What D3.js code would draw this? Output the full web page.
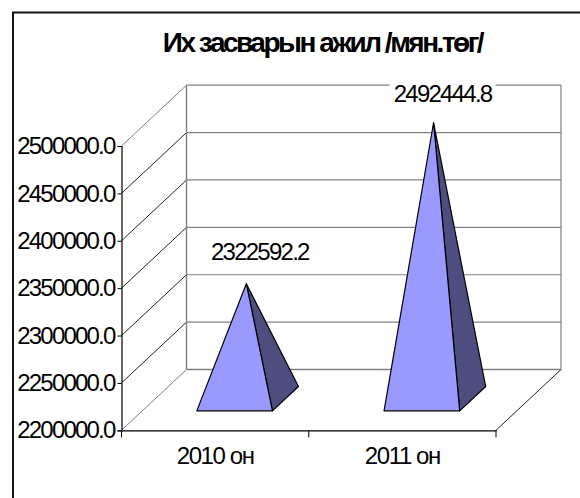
<!DOCTYPE html>
<html>
<head>
<meta charset="utf-8">
<script src="https://cdn.jsdelivr.net/npm/d3@7"></script>
<style>
  html, body { margin: 0; padding: 0; background: #fff; }
  svg { display: block; }
  text { font-family: "Liberation Sans", Arial, sans-serif; fill: #000; }
</style>
</head>
<body>
<svg id="chart"></svg>
<script>
const titleText = 'Их засварын ажил /мян.төг/';
const categories = ['2010 он', '2011 он'];
const values = [2322592.2, 2492444.8];
const valueTicks = [2200000, 2250000, 2300000, 2350000, 2400000, 2450000, 2500000];

const svgWidth = 580;
const svgHeight = 498;
const margin = { top: 146, right: 84, bottom: 67.7, left: 121.5 };

// depth offset of the back wall
const depthX = 65;
const depthY = 60.8;

const svg = d3.select('#chart')
  .attr('width', svgWidth)
  .attr('height', svgHeight);

const xScale = d3.scaleBand()
  .domain(categories)
  .range([margin.left, margin.left + 374.5]);

const yScale = d3.scaleLinear()
  .domain([2200000, 2500000])
  .range([svgHeight - margin.bottom, margin.top]);

const xRight = xScale.range()[1];
const project = (x, y, depth) => [x + depth * depthX, y - depth * depthY];

// outer frame, runs off the right and bottom of the picture
svg.append('path')
  .attr('d', `M13,${svgHeight + 2} V12.5 H${svgWidth + 2}`)
  .attr('fill', 'none')
  .attr('stroke', '#111')
  .attr('stroke-width', 2);

const grid = svg.append('g');

// back wall lines and the slanted side wall lines
valueTicks.forEach(t => {
  const edge = t === 2200000 || t === 2500000;
  const back = project(margin.left, yScale(t), 1);
  const backRight = project(xRight, yScale(t), 1);
  grid.append('line')
    .attr('x1', back[0]).attr('y1', back[1])
    .attr('x2', backRight[0]).attr('y2', backRight[1])
    .attr('stroke', '#808080')
    .attr('stroke-width', t === 2200000 ? 1.6 : 1.2);
  grid.append('line')
    .attr('x1', margin.left).attr('y1', yScale(t))
    .attr('x2', back[0]).attr('y2', back[1])
    .attr('stroke', edge ? '#808080' : '#222')
    .attr('stroke-width', 1);
});

const wallTop = project(margin.left, yScale(2500000), 1);
const wallBottom = project(margin.left, yScale(2200000), 1);
grid.append('line')
  .attr('x1', wallTop[0]).attr('y1', wallTop[1])
  .attr('x2', wallBottom[0]).attr('y2', wallBottom[1])
  .attr('stroke', '#808080')
  .attr('stroke-width', 1.4);

const rightTop = project(xRight, yScale(2500000), 1);
const rightBottom = project(xRight, yScale(2200000), 1);
grid.append('line')
  .attr('x1', rightTop[0]).attr('y1', rightTop[1])
  .attr('x2', rightBottom[0]).attr('y2', rightBottom[1])
  .attr('stroke', '#808080')
  .attr('stroke-width', 1.2);
grid.append('line')
  .attr('x1', xRight).attr('y1', yScale(2200000))
  .attr('x2', rightBottom[0]).attr('y2', rightBottom[1])
  .attr('stroke', '#222')
  .attr('stroke-width', 1);

// axes
const yAxis = d3.axisLeft(yScale)
  .tickValues(valueTicks)
  .tickFormat(d3.format('.1f'))
  .tickSize(4)
  .tickPadding(3);

const yAxisG = svg.append('g')
  .attr('transform', `translate(${margin.left}, 0)`)
  .call(yAxis);

const xAxis = d3.axisBottom(xScale)
  .tickSize(0)
  .tickPadding(17);

const xAxisG = svg.append('g')
  .attr('transform', `translate(0, ${yScale(2200000)})`)
  .call(xAxis);

[margin.left, ...categories.map(c => xScale(c) + xScale.bandwidth())].forEach(x => {
  xAxisG.append('line')
    .attr('x1', x).attr('x2', x)
    .attr('y1', 0).attr('y2', 7)
    .attr('stroke', '#000');
});

svg.selectAll('.domain')
  .attr('stroke', '#000')
  .attr('stroke-width', 1.2);

yAxisG.selectAll('text')
  .style('font-size', '24px')
  .style('letter-spacing', '-1.8px');

xAxisG.selectAll('text')
  .attr('dy', '0.71em')
  .style('font-size', '24px')
  .style('letter-spacing', '-1.4px');

// pyramids
const halfWidth = xScale.bandwidth() * 0.202;
const depthFront = 0.32;
const depthBack = 0.72;
const depthMid = 0.5;

const bars = svg.selectAll('.bar')
  .data(categories.map((c, i) => ({ category: c, value: values[i] })))
  .enter().append('g')
  .attr('class', 'bar');

const center = d => xScale(d.category) + xScale.bandwidth() / 2 - 1.3;
const base = yScale(2200000);

bars.append('path')
  .attr('d', d => {
    const apex = project(center(d), yScale(d.value), depthMid);
    const frontRight = project(center(d) + halfWidth, base, depthFront);
    const backRight = project(center(d) + halfWidth, base, depthBack);
    return d3.line()([apex, frontRight, backRight]) + 'Z';
  })
  .attr('fill', '#4d4d80')
  .attr('stroke', '#000')
  .attr('stroke-width', 1.2)
  .attr('stroke-linejoin', 'round');

bars.append('path')
  .attr('d', d => {
    const apex = project(center(d), yScale(d.value), depthMid);
    const frontLeft = project(center(d) - halfWidth, base, depthFront);
    const frontRight = project(center(d) + halfWidth, base, depthFront);
    return d3.line()([apex, frontLeft, frontRight]) + 'Z';
  })
  .attr('fill', '#9999ff')
  .attr('stroke', '#000')
  .attr('stroke-width', 1.2)
  .attr('stroke-linejoin', 'round');

// data labels on white boxes which cut the grid lines
const labelFormat = d3.format('.1f');
const labelBoxes = svg.selectAll('.label-box')
  .data(categories.map((c, i) => ({ category: c, value: values[i], index: i })))
  .enter().append('g')
  .attr('class', 'label-box')
  .attr('transform', d => {
    const apex = project(center(d), yScale(d.value), depthMid);
    return d.index === 0
      ? `translate(${apex[0] + 13.5}, ${apex[1] - 32})`
      : `translate(${apex[0] + 9}, ${apex[1] - 29})`;
  });

labelBoxes.append('rect')
  .attr('x', -53)
  .attr('y', -22)
  .attr('width', 106)
  .attr('height', 44)
  .attr('fill', '#fff');

labelBoxes.append('text')
  .attr('text-anchor', 'middle')
  .attr('dy', '0.36em')
  .style('font-size', '24px')
  .style('letter-spacing', '-1.75px')
  .text(d => labelFormat(d.value));

svg.append('text')
  .attr('x', 322.5)
  .attr('y', 52)
  .attr('text-anchor', 'middle')
  .attr('font-weight', 'bold')
  .style('font-size', '28px')
  .style('letter-spacing', '-2.5px')
  .text(titleText);
</script>
</body>
</html>
